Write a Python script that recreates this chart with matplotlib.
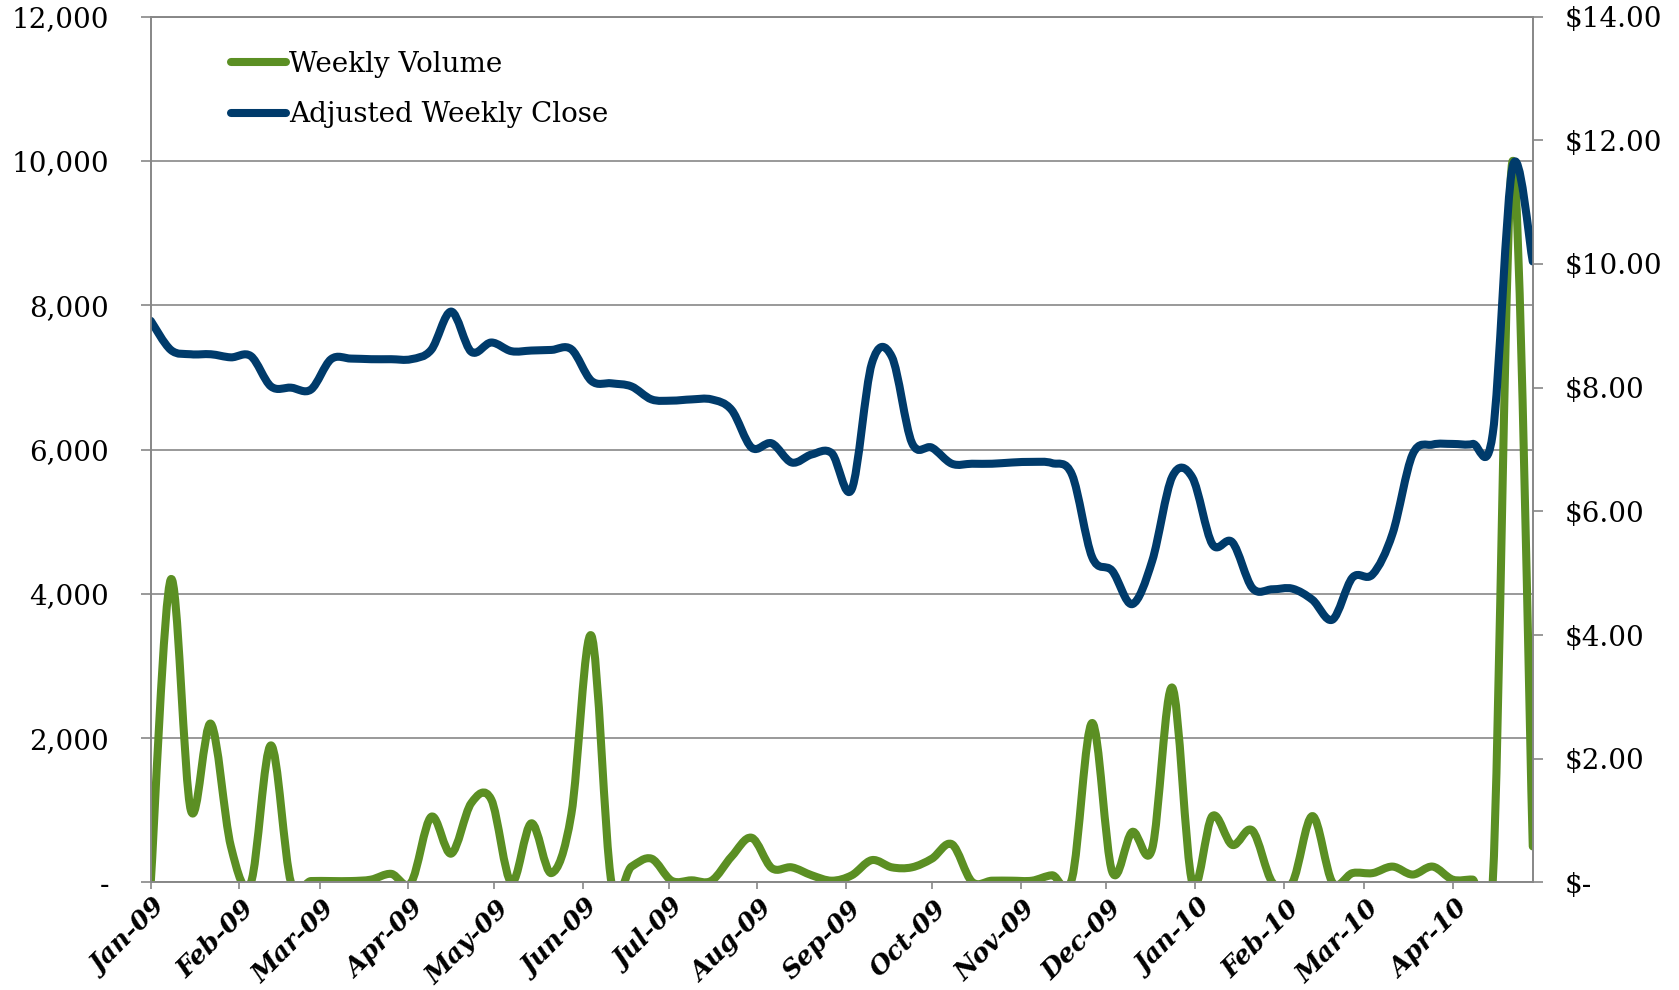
import numpy as np
import pandas as pd
import matplotlib
matplotlib.use("Agg")
import matplotlib.pyplot as plt
import matplotlib.dates as mdates
import matplotlib.transforms as mtransforms
from matplotlib.path import Path
from matplotlib.patches import PathPatch
from matplotlib.lines import Line2D
from matplotlib.ticker import FixedLocator, FixedFormatter

# Weekly observations, Jan 2009 - Apr 2010
week_start = "2009-01-01"
n_weeks = 70

weekly_volume = [
    0, 4200, 1000, 2200, 500, 0, 1900, 0, 20, 20,
    20, 40, 120, 0, 910, 400, 1100, 1150, 0, 820,
    130, 950, 3420, 0, 220, 330, 25, 30, 25, 360,
    620, 200, 210, 100, 25, 100, 310, 210, 210, 330,
    530, 10, 25, 25, 25, 100, 60, 2210, 150, 700,
    470, 2700, 0, 920, 520, 720, 0, 0, 920, 0,
    130, 130, 220, 110, 220, 40, 40, 0, 10000, 500,
]

adjusted_close = [
    9.08, 8.61, 8.54, 8.54, 8.49, 8.51, 8.02, 8.00, 7.97, 8.46,
    8.47, 8.46, 8.46, 8.46, 8.61, 9.23, 8.58, 8.73, 8.59, 8.60,
    8.61, 8.62, 8.11, 8.07, 8.02, 7.81, 7.79, 7.81, 7.81, 7.64,
    7.03, 7.10, 6.79, 6.92, 6.94, 6.36, 8.39, 8.50, 7.11, 7.03,
    6.77, 6.77, 6.77, 6.79, 6.80, 6.78, 6.59, 5.26, 5.04, 4.50,
    5.20, 6.56, 6.55, 5.47, 5.50, 4.76, 4.74, 4.75, 4.57, 4.25,
    4.93, 4.98, 5.64, 6.92, 7.08, 7.09, 7.09, 7.25, 11.58, 10.04,
]

volume_ticks = [0, 2000, 4000, 6000, 8000, 10000, 12000]
volume_tick_labels = ["-", "2,000", "4,000", "6,000", "8,000", "10,000", "12,000"]
price_ticks = [0, 2, 4, 6, 8, 10, 12, 14]
price_tick_labels = ["$-", "$2.00", "$4.00", "$6.00", "$8.00", "$10.00", "$12.00", "$14.00"]

series_names = ["Weekly Volume", "Adjusted Weekly Close"]
GREEN = "#5B8F23"
BLUE = "#003B6B"
GRID = "#878787"

dates = pd.date_range(week_start, periods=n_weeks, freq="7D")
xnum = mdates.date2num(dates.to_pydatetime())


def smoothed_path(x, y):
    """Cubic Bezier path through every point (Catmull-Rom style smoothing)."""
    pts = np.column_stack([np.asarray(x, float), np.asarray(y, float)])
    ext = np.vstack([pts[0], pts, pts[-1]])
    verts = [pts[0]]
    codes = [Path.MOVETO]
    for i in range(len(pts) - 1):
        p0, p1, p2, p3 = ext[i], ext[i + 1], ext[i + 2], ext[i + 3]
        verts += [p1 + (p2 - p0) / 6.0, p2 - (p3 - p1) / 6.0, p2]
        codes += [Path.CURVE4] * 3
    return Path(verts, codes)


plt.rcParams["font.family"] = ["DejaVu Serif"]

fig = plt.figure(figsize=(16.79, 9.90), dpi=100)
ax = fig.add_axes([0.0898, 0.1086, 0.8231, 0.8747])
ax2 = ax.twinx()

LW = 5.8
ax.add_patch(PathPatch(smoothed_path(xnum, weekly_volume), facecolor="none",
                       edgecolor=GREEN, lw=LW, capstyle="round", joinstyle="round"))
ax2.add_patch(PathPatch(smoothed_path(xnum, adjusted_close), facecolor="none",
                        edgecolor=BLUE, lw=LW, capstyle="round", joinstyle="round"))

ax.set_xlim(xnum[0], xnum[-1])
ax.set_ylim(0, 12000)
ax2.set_ylim(0, 14)

ax.yaxis.set_major_locator(FixedLocator(volume_ticks))
ax.yaxis.set_major_formatter(FixedFormatter(volume_tick_labels))
ax2.yaxis.set_major_locator(FixedLocator(price_ticks))
ax2.yaxis.set_major_formatter(FixedFormatter(price_tick_labels))

ax.xaxis.set_major_locator(mdates.MonthLocator())
ax.xaxis.set_major_formatter(mdates.DateFormatter("%b-%y"))

ax.grid(axis="y", color=GRID, lw=1.2)
ax.set_axisbelow(True)
for a in (ax, ax2):
    for s in a.spines.values():
        s.set_color(GRID)
        s.set_linewidth(1.2)

ax.tick_params(axis="y", direction="out", length=7, width=1.2, color=GRID,
               labelsize=20, pad=23, labelcolor="black")
ax2.tick_params(axis="y", direction="out", length=7, width=1.2, color=GRID,
                labelsize=20, pad=16, labelcolor="black")
ax.tick_params(axis="x", direction="out", length=5, width=1.2, color=GRID, pad=11)

# Rotated month labels, nudged so each label ends just right of its tick
shift = mtransforms.ScaledTranslation(8 / 72, 0, fig.dpi_scale_trans)
for lab in ax.get_xticklabels():
    lab.set_rotation(45)
    lab.set_ha("right")
    lab.set_va("center")
    lab.set_rotation_mode("anchor")
    lab.set_fontsize(18.5)
    lab.set_fontstyle("italic")
    lab.set_fontweight("bold")
    lab.set_transform(lab.get_transform() + shift)

handles = [Line2D([], [], color=GREEN, lw=LW, solid_capstyle="round"),
           Line2D([], [], color=BLUE, lw=LW, solid_capstyle="round")]
ax2.legend(handles, series_names, loc="upper left", bbox_to_anchor=(0.058, 0.960),
           frameon=False, fontsize=20, handlelength=2.0, handletextpad=0.1,
           labelspacing=0.83, borderpad=0, borderaxespad=0)

fig.savefig("out.png", dpi=100, facecolor="white")
